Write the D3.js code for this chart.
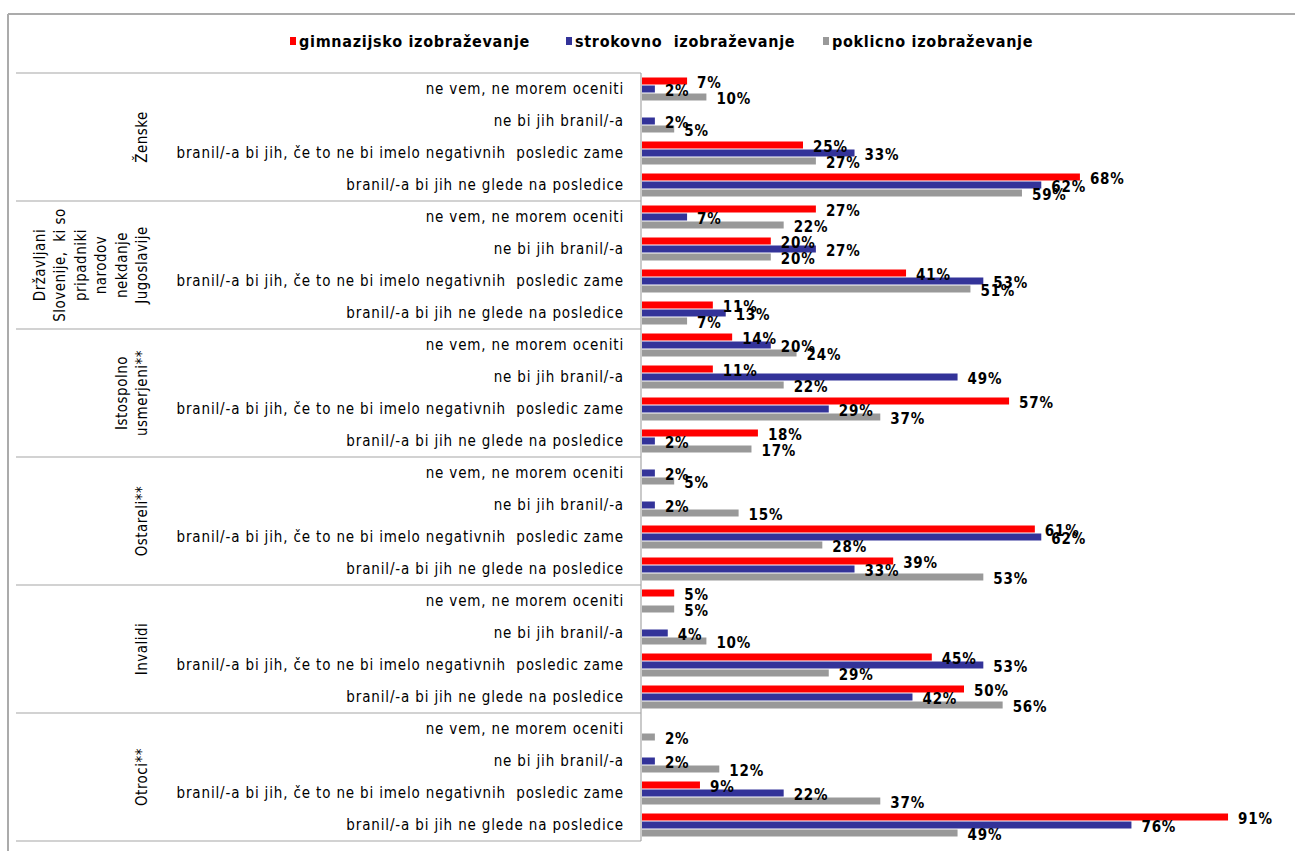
<!DOCTYPE html>
<html>
<head>
<meta charset="utf-8">
<script src="https://cdn.jsdelivr.net/npm/d3@7"></script>
<style>
  html, body { margin: 0; padding: 0; background: #fff; }
  svg { display: block; }
  text { white-space: pre; }
  .cond { font-family: "Liberation Sans Narrow", "Arial Narrow", "DejaVu Sans Condensed", sans-serif; }
</style>
</head>
<body>
<svg id="chart" width="1295" height="851"></svg>
<script>
// Answer categories repeated inside each group
const categories = [
  "ne vem, ne morem oceniti",
  "ne bi jih branil/-a",
  "branil/-a bi jih, če to ne bi imelo negativnih  posledic zame",
  "branil/-a bi jih ne glede na posledice"
];

// Groups (split into the lines used for the rotated labels)
const groups = [
  ["Ženske"],
  ["Državljani", "Slovenije,  ki so", "pripadniki", "narodov", "nekdanje", "Jugoslavije"],
  ["Istospolno", "usmerjeni**"],
  ["Ostareli**"],
  ["Invalidi"],
  ["Otroci**"]
];

const seriesNames = ["gimnazijsko izobraževanje", "strokovno  izobraževanje", "poklicno izobraževanje"];

// Percent values, one row per group, in category order (null = no answer given)
const gimnazijsko = [
  [7, null, 25, 68],
  [27, 20, 41, 11],
  [14, 11, 57, 18],
  [null, null, 61, 39],
  [5, null, 45, 50],
  [null, null, 9, 91]
];
const strokovno = [
  [2, 2, 33, 62],
  [7, 27, 53, 13],
  [20, 49, 29, 2],
  [2, 2, 62, 33],
  [null, 4, 53, 42],
  [null, 2, 22, 76]
];
const poklicno = [
  [10, 5, 27, 59],
  [22, 20, 51, 7],
  [24, 22, 37, 17],
  [5, 15, 28, 53],
  [5, 10, 29, 56],
  [2, 12, 37, 49]
];

const seriesValues = [gimnazijsko, strokovno, poklicno];
const colors = ["#ff0000", "#333399", "#999999"];

const svg = d3.select("#chart");

// Frame
svg.append("line").attr("x1", 8).attr("x2", 1295).attr("y1", 14).attr("y2", 14)
  .attr("stroke", "#ababab").attr("stroke-width", 2);
svg.append("line").attr("x1", 8).attr("x2", 8).attr("y1", 14).attr("y2", 851)
  .attr("stroke", "#ababab").attr("stroke-width", 2);

// Scales
const plotTop = 73, plotBottom = 841, axisX = 642;
const x = d3.scaleLinear().domain([0, 100]).range([axisX, 1286]);

const rows = [];
groups.forEach((g, gi) => categories.forEach((c, ci) => rows.push({ gi, ci, key: gi * categories.length + ci })));

const y = d3.scaleBand().domain(rows.map(r => r.key)).range([plotTop, plotBottom]);
const inner = d3.scaleBand().domain(seriesNames).range([-12, 12]);
const groupY = d3.scaleBand().domain(d3.range(groups.length)).range([plotTop, plotBottom]);

// Group separator lines in the label column
svg.append("g").selectAll("line")
  .data(d3.range(groups.length + 1))
  .join("line")
  .attr("x1", 16).attr("x2", axisX - 1)
  .attr("y1", i => i < groups.length ? groupY(i) : plotBottom)
  .attr("y2", i => i < groups.length ? groupY(i) : plotBottom)
  .attr("stroke", "#a6a6a6").attr("stroke-width", 1.2);

// Category axis line
svg.append("line").attr("x1", axisX - 1).attr("x2", axisX - 1)
  .attr("y1", plotTop).attr("y2", plotBottom)
  .attr("stroke", "#a6a6a6").attr("stroke-width", 1.2);

// Category labels
svg.append("g").selectAll("text")
  .data(rows)
  .join("text")
  .attr("class", "cond")
  .attr("x", 624)
  .attr("y", r => y(r.key) + y.bandwidth() / 2 + 5)
  .attr("text-anchor", "end")
  .attr("font-size", 15)
  .attr("letter-spacing", 0.85)
  .attr("fill", "#000")
  .text(r => categories[r.ci]);

// Group labels, rotated
const gl = svg.append("g").selectAll("text")
  .data(groups)
  .join("text")
  .attr("class", "cond")
  .attr("font-size", 15)
  .attr("letter-spacing", 0.5)
  .attr("text-anchor", "middle")
  .attr("fill", "#000")
  .attr("transform", (g, i) => `translate(147,${groupY(i) + groupY.bandwidth() / 2}) rotate(-90)`);
gl.selectAll("tspan")
  .data(g => g.map((line, li) => ({ line, off: (li - (g.length - 1)) * 20.5 })))
  .join("tspan")
  .attr("x", 0)
  .attr("y", d => d.off)
  .text(d => d.line);

// Bars and value labels
const barData = [];
rows.forEach(r => {
  seriesNames.forEach((s, si) => {
    const v = seriesValues[si][r.gi][r.ci];
    if (v != null) barData.push({ row: r, s, si, v });
  });
});

svg.append("g").selectAll("rect")
  .data(barData)
  .join("rect")
  .attr("x", axisX)
  .attr("y", d => y(d.row.key) + y.bandwidth() / 2 + inner(d.s) + 0.5)
  .attr("width", d => x(d.v) - axisX)
  .attr("height", 7)
  .attr("fill", d => colors[d.si]);

svg.append("g").selectAll("text")
  .data(barData)
  .join("text")
  .attr("class", "cond")
  .attr("x", d => x(d.v) + 10)
  .attr("y", d => y(d.row.key) + y.bandwidth() / 2 + inner(d.s) + 4 + 7)
  .attr("font-size", 15)
  .attr("font-weight", "bold")
  .attr("letter-spacing", 0.8)
  .attr("fill", "#000")
  .text(d => d.v + "%");

// Legend
const legendX = [290, 566, 823];
const legend = svg.append("g").selectAll("g")
  .data(seriesNames)
  .join("g")
  .attr("transform", (s, i) => `translate(${legendX[i]},41)`);
legend.append("rect")
  .attr("x", 0).attr("y", -4).attr("width", 6).attr("height", 8)
  .attr("fill", (s, i) => colors[i]);
legend.append("text")
  .attr("class", "cond")
  .attr("x", 9).attr("y", 5.5)
  .attr("font-size", 16)
  .attr("font-weight", "bold")
  .attr("letter-spacing", 0.7)
  .attr("fill", "#000")
  .text(s => s);
</script>
</body>
</html>
